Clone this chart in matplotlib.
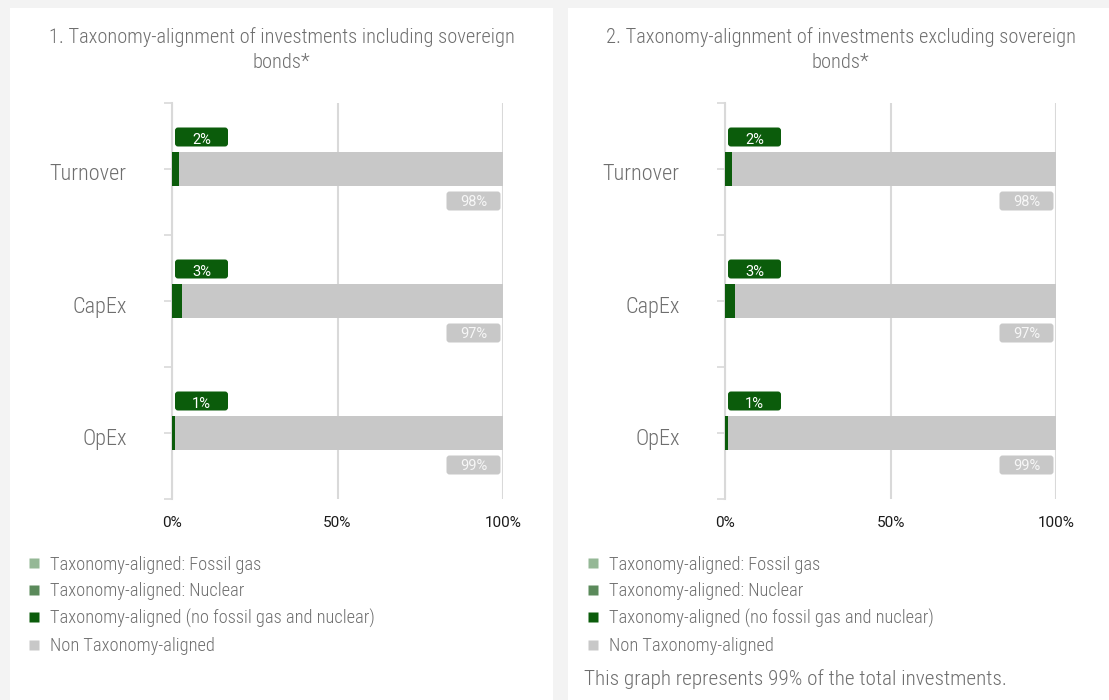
import matplotlib
matplotlib.use('Agg')
import matplotlib.pyplot as plt
from matplotlib import font_manager
from matplotlib.patches import Rectangle, FancyBboxPatch
from matplotlib.lines import Line2D
from matplotlib.transforms import IdentityTransform, ScaledTranslation

# ---------------- data ----------------
categories = ['Turnover', 'CapEx', 'OpEx']
fossil_gas_incl = [0, 0, 0]
nuclear_incl = [0, 0, 0]
aligned_incl = [2, 3, 1]
non_aligned_incl = [98, 97, 99]
fossil_gas_excl = [0, 0, 0]
nuclear_excl = [0, 0, 0]
aligned_excl = [2, 3, 1]
non_aligned_excl = [98, 97, 99]
x_ticks = [0, 50, 100]
x_tick_labels = ['0%', '50%', '100%']
titles = ['1. Taxonomy-alignment of investments including sovereign\nbonds*',
          '2. Taxonomy-alignment of investments excluding sovereign\nbonds*']
legend_labels = ['Taxonomy-aligned: Fossil gas', 'Taxonomy-aligned: Nuclear',
                 'Taxonomy-aligned (no fossil gas and nuclear)', 'Non Taxonomy-aligned']
footnote = 'This graph represents 99% of the total investments.'

# ---------------- style ----------------
C_GAS = '#95b896'
C_NUC = '#5b8a5b'
C_ALN = '#0b5c0b'
C_NON = '#c8c8c8'
C_GRID = '#d9d9d9'
C_TXT = '#6e6e6e'
colors = [C_GAS, C_NUC, C_ALN, C_NON]

names = {f.name for f in font_manager.fontManager.ttflist}
FONT = 'DejaVu Sans'
STRETCH = 'condensed'
for cand in ['Roboto Condensed', 'Liberation Sans Narrow', 'Open Sans Condensed']:
    if cand in names:
        FONT = cand
        STRETCH = 'normal'
        break
TICKFONT = 'Roboto' if 'Roboto' in names else 'DejaVu Sans'
plt.rcParams['font.family'] = [FONT, 'DejaVu Sans']
plt.rcParams['font.stretch'] = STRETCH
plt.rcParams['font.weight'] = 'light'

W, H = 1109, 700
fig = plt.figure(figsize=(W / 100, H / 100), dpi=100, facecolor='#f3f3f3')


def px(x0, y0, w, h):
    return [x0 / W, 1 - (y0 + h) / H, w / W, h / H]


# white panels
for (x0, x1) in [(10, 553), (568, 1109)]:
    fig.patches.append(Rectangle((x0 / W, 0), (x1 - x0) / W, (H - 8) / H,
                                 transform=fig.transFigure, facecolor='white',
                                 edgecolor='none', zorder=-5))

panels = [
    dict(ax_x=172, cx=281.5, leg_x=27, data=(fossil_gas_incl, nuclear_incl, aligned_incl, non_aligned_incl), title=titles[0]),
    dict(ax_x=725, cx=840.5, leg_x=586, data=(fossil_gas_excl, nuclear_excl, aligned_excl, non_aligned_excl), title=titles[1]),
]

down = ScaledTranslation(0, -3.5 / 100, fig.dpi_scale_trans)

ypos = list(range(len(categories)))
for p in panels:
    ax = fig.add_axes(px(p['ax_x'], 103, 331, 396))
    ax.set_facecolor('none')
    left = [0] * len(categories)
    for series, c in zip(p['data'], colors):
        ax.barh(ypos, series, left=left, height=0.26, color=c, zorder=3)
        left = [l + s for l, s in zip(left, series)]
    ax.set_xlim(0, 100)
    ax.set_ylim(len(categories) - 0.5, -0.5)
    ax.set_xticks(x_ticks)
    ax.set_xticklabels(x_tick_labels, fontsize=11, color='#1a1a1a',
                       family=[TICKFONT, 'DejaVu Sans'], fontweight='normal')
    ax.tick_params(axis='x', length=0, pad=12)
    ax.set_yticks(ypos)
    ax.set_yticks([y - 0.5 for y in ypos] + [len(categories) - 0.5], minor=True)
    ax.tick_params(axis='y', which='both', length=6, width=1.2, color=C_GRID, pad=26.5)
    ax.set_yticklabels(categories, fontsize=16, color=C_TXT)
    for t in ax.get_yticklabels():
        t.set_transform(t.get_transform() + down)
    for s in ['top', 'right', 'bottom']:
        ax.spines[s].set_visible(False)
    ax.spines['left'].set_color(C_GRID)
    ax.spines['left'].set_linewidth(1.5)
    ax.xaxis.grid(True, color=C_GRID, linewidth=1.5, zorder=0)
    ax.set_axisbelow(True)

    fig.text(p['cx'] / W, 1 - 27 / H, p['title'], ha='center', va='top',
             fontsize=14.7, color=C_TXT, linespacing=1.4)

    # value label boxes
    aligned = p['data'][2]
    non_aligned = p['data'][3]
    for i in ypos:
        x0, yc = ax.transData.transform((0, i))
        x1, _ = ax.transData.transform((100, i))
        gb = FancyBboxPatch((x0 + 3, yc + 32 - 9.5), 53, 19,
                            boxstyle='round,pad=0,rounding_size=3',
                            transform=IdentityTransform(), facecolor=C_ALN,
                            edgecolor='none', clip_on=False, zorder=6)
        ax.add_artist(gb)
        ax.text(x0 + 3 + 26.5, yc + 28.5, f'{aligned[i]}%', transform=IdentityTransform(),
                ha='center', va='center', fontsize=10.5, color='white', zorder=7,
                clip_on=False, family=[TICKFONT, 'DejaVu Sans'], fontweight='normal')
        nb = FancyBboxPatch((x1 - 2.5 - 54, yc - 32 - 9.5), 54, 19,
                            boxstyle='round,pad=0,rounding_size=3',
                            transform=IdentityTransform(), facecolor=C_NON,
                            edgecolor='none', clip_on=False, zorder=6)
        ax.add_artist(nb)
        ax.text(x1 - 2.5 - 27, yc - 33.5, f'{non_aligned[i]}%', transform=IdentityTransform(),
                ha='center', va='center', fontsize=10.5, color='#f7f7f7', zorder=7,
                clip_on=False, family=[TICKFONT, 'DejaVu Sans'], fontweight='normal')

    handles = [Line2D([], [], marker='s', linestyle='none', markersize=7.5,
                      markerfacecolor=c, markeredgecolor='none') for c in colors]
    fig.legend(handles, legend_labels, loc='upper left',
               bbox_to_anchor=(p['leg_x'] / W, 1 - 555.5 / H), frameon=False,
               fontsize=13.2, labelcolor=C_TXT, handlelength=0.8, handletextpad=0.45,
               labelspacing=0.48, borderpad=0, borderaxespad=0)

fig.text(584 / W, 1 - 679 / H, footnote, ha='left', va='center', fontsize=15.3, color=C_TXT)

fig.savefig('out.png', dpi=100, facecolor=fig.get_facecolor())
